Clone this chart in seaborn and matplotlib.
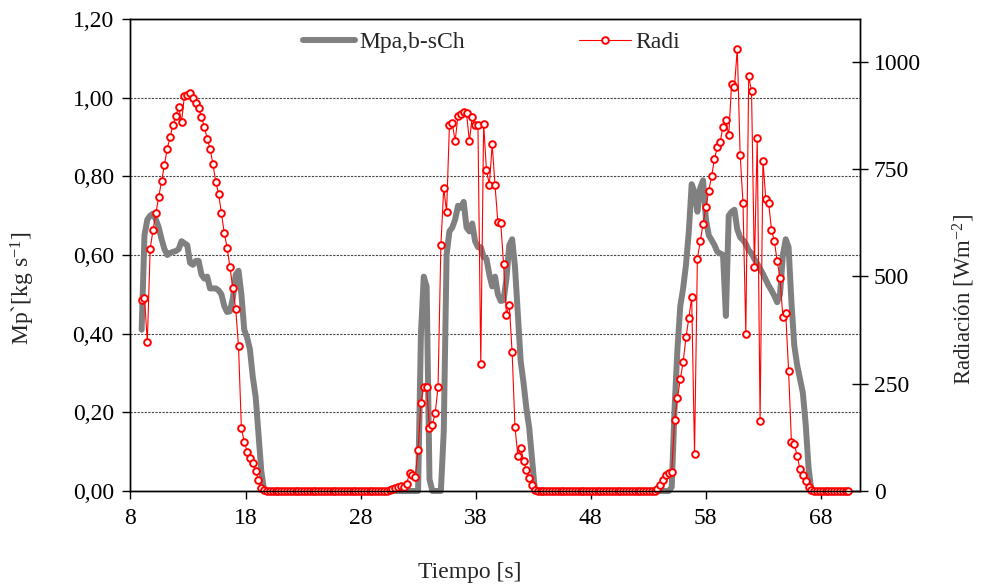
import numpy as np
import pandas as pd
import matplotlib
matplotlib.use("Agg")
import matplotlib.pyplot as plt
from matplotlib.ticker import FuncFormatter
import seaborn as sns

# Muestreo del registro (s)
T0 = 8.97
DT = 0.2477

# Mpa,b-sCh [kg/s] (eje izquierdo)
mpa_pico1 = [0.41, 0.65, 0.69, 0.70, 0.705, 0.69, 0.67, 0.64, 0.615, 0.60,
             0.605, 0.608, 0.61, 0.615, 0.635, 0.63, 0.625, 0.58, 0.575, 0.585,
             0.585, 0.55, 0.54, 0.545, 0.515, 0.515, 0.515, 0.51, 0.50, 0.47,
             0.455, 0.457, 0.49, 0.55, 0.56, 0.50, 0.41, 0.39, 0.36, 0.29,
             0.24, 0.145, 0.05, 0.0]
mpa_pausa1 = [0, 0, 0, 0, 0, 0, 0, 0, 0, 0, 0, 0, 0, 0, 0, 0, 0, 0,
              0, 0, 0, 0, 0, 0, 0, 0, 0, 0, 0, 0, 0, 0, 0, 0, 0, 0,
              0, 0, 0, 0, 0, 0, 0, 0, 0, 0, 0, 0, 0, 0, 0, 0, 0, 0]
mpa_chispa = [0.40, 0.545, 0.52, 0.03, 0, 0, 0, 0]
mpa_pico2 = [0.15, 0.60, 0.66, 0.67, 0.69, 0.725, 0.72, 0.735, 0.67, 0.66,
             0.68, 0.635, 0.62, 0.62, 0.595, 0.59, 0.55, 0.52, 0.545, 0.50,
             0.483, 0.485, 0.54, 0.625, 0.64, 0.57, 0.45, 0.33, 0.275, 0.21,
             0.16, 0.08, 0.0]
mpa_pausa2 = [0, 0, 0, 0, 0, 0, 0, 0, 0, 0, 0, 0, 0, 0, 0, 0,
              0, 0, 0, 0, 0, 0, 0, 0, 0, 0, 0, 0, 0, 0, 0, 0,
              0, 0, 0, 0, 0, 0, 0, 0, 0, 0, 0, 0, 0, 0, 0]
mpa_pico3 = [0.01, 0.21, 0.36, 0.47, 0.515, 0.575, 0.66, 0.78, 0.76, 0.71,
             0.77, 0.79, 0.69, 0.65, 0.638, 0.625, 0.608, 0.604, 0.60, 0.445,
             0.70, 0.71, 0.715, 0.665, 0.645, 0.638, 0.628, 0.612, 0.604, 0.59,
             0.578, 0.565, 0.552, 0.537, 0.522, 0.51, 0.496, 0.48, 0.50, 0.60,
             0.64, 0.62, 0.48, 0.37, 0.32, 0.285, 0.25, 0.17, 0.06, 0.0]
mpa_final = [0, 0, 0, 0, 0, 0, 0, 0, 0, 0, 0, 0, 0]

# Radiacion [W/m2] (eje derecho)
radi_pico1 = [444, 450, 348, 565, 608, 647, 686, 722, 760, 798,
              826, 853, 875, 895, 860, 920, 922, 927, 915, 905,
              892, 872, 849, 821, 798, 763, 721, 693, 647, 601,
              567, 521, 473, 424, 337, 146, 115, 92, 78, 65,
              47, 26, 8, 2]
radi_pausa1 = [0, 0, 0, 0, 0, 0, 0, 0, 0, 0, 0, 0, 0, 0,
               0, 0, 0, 0, 0, 0, 0, 0, 0, 0, 0, 0, 0, 0,
               0, 0, 0, 0, 0, 0, 0, 0, 0, 0, 0, 0, 0, 0]
radi_pico2 = [1, 2, 4, 6, 9, 12, 9, 16,
              43, 37, 33, 96, 206, 242, 242, 146, 154, 181,
              242, 573, 706, 650, 853, 858, 815, 875, 878, 884,
              880, 815, 872, 853, 853, 296, 856, 747, 714, 808,
              712, 626, 625, 528, 411, 434, 323, 149, 82, 101,
              71, 49, 30, 14, 2]
radi_pausa2 = [0, 0, 0, 0, 0, 0, 0, 0, 0, 0, 0, 0, 0, 0,
               0, 0, 0, 0, 0, 0, 0, 0, 0, 0, 0, 0, 0, 0,
               0, 0, 0, 0, 0, 0, 0, 0, 0, 0, 0, 0, 0, 0]
radi_pico3 = [5, 14, 26, 37, 41,
              45, 166, 216, 261, 300, 358, 403, 451, 86, 541,
              582, 623, 662, 700, 734, 774, 801, 814, 849, 864,
              829, 948, 941, 1031, 784, 672, 366, 966, 932, 522,
              823, 164, 770, 681, 671, 609, 582, 536, 496, 405,
              414, 280, 115, 109, 82, 51, 37, 24, 10, 2]
radi_final = [0, 0, 0, 0, 0, 0, 0, 0, 0, 0, 0, 0, 0]

mpa = mpa_pico1 + mpa_pausa1 + mpa_chispa + mpa_pico2 + mpa_pausa2 + mpa_pico3 + mpa_final
radi = radi_pico1 + radi_pausa1 + radi_pico2 + radi_pausa2 + radi_pico3 + radi_final

x_ticks = [8, 18, 28, 38, 48, 58, 68]
y_ticks = [0, 0.2, 0.4, 0.6, 0.8, 1.0, 1.2]
y2_ticks = [0, 250, 500, 750, 1000]

df = pd.DataFrame({'tiempo': T0 + DT * np.arange(len(mpa)),
                   'mpa': mpa, 'radi': radi})

sns.set_style('ticks')
plt.rcParams['font.family'] = ['Liberation Serif', 'DejaVu Serif']
plt.rcParams['mathtext.fontset'] = 'custom'
plt.rcParams['mathtext.rm'] = 'Liberation Serif'
plt.rcParams['mathtext.it'] = 'Liberation Serif:italic'
plt.rcParams['mathtext.default'] = 'regular'
FS = 17

fig = plt.figure(figsize=(9.81, 5.88), dpi=100)
ax = fig.add_axes([0.1330, 0.1650, 0.7436, 0.8027])
ax2 = ax.twinx()

sns.lineplot(data=df, x='tiempo', y='mpa', ax=ax, color='#808080',
             linewidth=4.3, legend=False, clip_on=False,
             solid_joinstyle='round')
sns.lineplot(data=df, x='tiempo', y='radi', ax=ax2, color='#ff0000',
             linewidth=0.8, marker='o', markersize=4.8,
             markerfacecolor='white', markeredgecolor='#ff0000',
             markeredgewidth=1.4, legend=False, clip_on=False)

# ejes
ax.set_xlim(8, 71.4)
ax.set_ylim(0, 1.2)
ax2.set_ylim(0, 1100)
ax.set_xticks(x_ticks)
ax.set_yticks(y_ticks)
ax2.set_yticks(y2_ticks)
ax.yaxis.set_major_formatter(FuncFormatter(lambda v, p: f'{v:.2f}'.replace('.', ',')))

ax.yaxis.grid(True, linestyle=(0, (2, 1.2)), color='#444444', linewidth=0.8)
ax.xaxis.grid(False)

for a in (ax, ax2):
    for s in a.spines.values():
        s.set_visible(True)
        s.set_color('black')
        s.set_linewidth(1.0)

ax.tick_params(axis='x', direction='out', length=6, width=1, labelsize=FS, pad=6, colors='black')
ax.tick_params(axis='y', direction='out', length=6, width=1, labelsize=FS, pad=6, colors='black')
ax2.tick_params(axis='y', direction='inout', length=12, width=1, labelsize=FS, pad=4, colors='black')

ax.set_xlabel('Tiempo [s]', fontsize=FS)
ax.xaxis.set_label_coords(0.465, -0.15)
ax.set_ylabel('Mp`[kg s$^{-1}$]', fontsize=FS)
ax.yaxis.set_label_coords(-0.128, 0.43)
ax2.set_ylabel('Radiación [Wm$^{-2}$]', fontsize=16.5)
ax2.yaxis.set_label_coords(1.124, 0.405)

# leyenda
h1 = ax.get_lines()[0]
h2 = ax2.get_lines()[0]
ax2.legend([h1, h2], ['Mpa,b-sCh', 'Radi'], loc='center',
           bbox_to_anchor=(0.495, 0.951), ncol=2, frameon=False,
           handlelength=2.2, handletextpad=0.2, columnspacing=4.8,
           fontsize=FS)

plt.savefig('out.png', dpi=100)
